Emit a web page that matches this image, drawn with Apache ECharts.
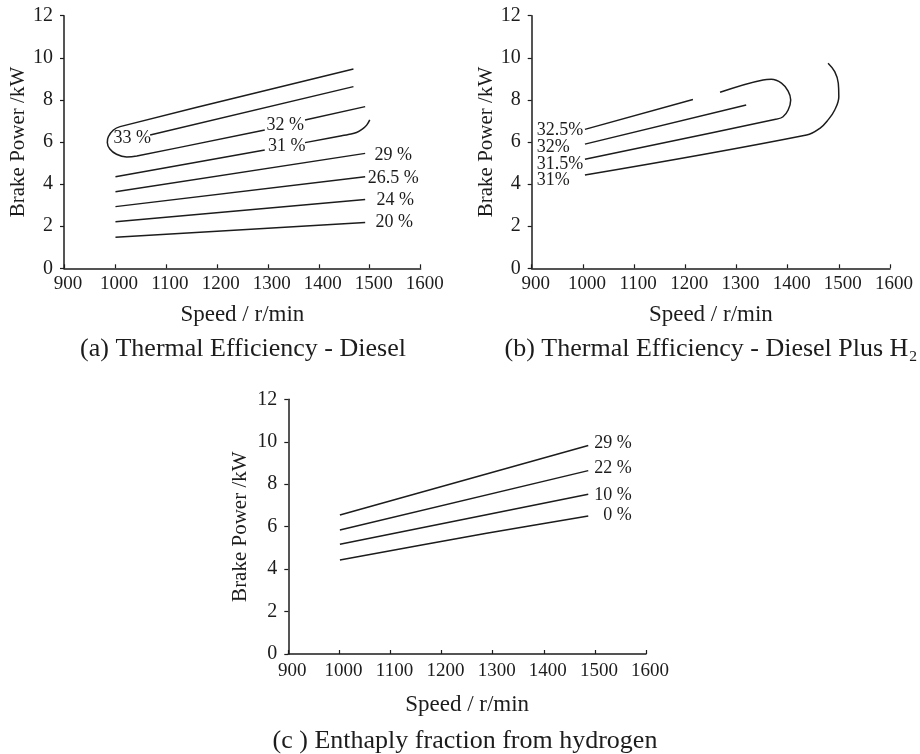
<!DOCTYPE html>
<html><head><meta charset="utf-8">
<script src="https://cdn.jsdelivr.net/npm/echarts@6/dist/echarts.min.js"></script>
<style>html,body{margin:0;padding:0;background:#fff}#c{width:920px;height:754px}</style>
</head><body><div id="c"></div>
<script>
// ---------- axes ----------
const speedMin = 900, speedMax = 1600, speedStep = 100;
const powerMin = 0, powerMax = 12, powerStep = 2;
const xTitle = 'Speed / r/min';
const yTitle = 'Brake Power /kW';
const captions = ['(a) Thermal Efficiency - Diesel', '(b) Thermal Efficiency - Diesel Plus H\u2082', '(c ) Enthaply fraction from hydrogen'];

// ---------- panel (a) Thermal Efficiency - Diesel ----------
const a20Speed = [1001, 1491];            const a20Power = [1.47, 2.17];
const a24Speed = [1001, 1491];            const a24Power = [2.21, 3.27];
const a265Speed = [1001, 1491];           const a265Power = [2.93, 4.35];
const a29Speed = [1001, 1491];            const a29Power = [3.64, 5.46];
const a31SpeedL = [1001, 1294];           const a31PowerL = [4.35, 5.62];
const a31SpeedR = [1373, 1445, 1458, 1474, 1486, 1494, 1500];
const a31PowerR = [5.97, 6.30, 6.36, 6.45, 6.62, 6.80, 7.05];
const a32SpeedL = [1468, 1010, 997, 987, 985, 990, 1003, 1023, 1043, 1294];
const a32PowerL = [9.47, 6.73, 6.57, 6.25, 5.98, 5.67, 5.42, 5.29, 5.34, 6.57];
const a32SpeedR = [1373, 1491];           const a32PowerR = [7.05, 7.68];
const a33Speed = [1069, 1468];            const a33Power = [6.33, 8.63];
const aLabelText  = ['33 %', '32 %', '31 %', '29 %', '26.5 %', '24 %', '20 %'];
const aLabelSpeed = [1034, 1334, 1337, 1546, 1546, 1550, 1548];
const aLabelPower = [6.18, 6.81, 5.82, 5.36, 4.27, 3.22, 2.21];

// ---------- panel (b) Thermal Efficiency - Diesel Plus H2 ----------
const b31Speed = [1004, 1437, 1463, 1479, 1492, 1500, 1499, 1492, 1479];
const b31Power = [4.43, 6.33, 6.65, 7.05, 7.52, 8.15, 8.79, 9.34, 9.74];
const b315Speed = [1004, 1379, 1391, 1401, 1406, 1401, 1388, 1368, 1352, 1268];
const b315Power = [5.18, 7.09, 7.20, 7.52, 8.00, 8.42, 8.80, 8.98, 8.95, 8.36];
const b32Speed = [1004, 1319];            const b32Power = [5.90, 7.76];
const b325Speed = [1004, 1215];           const b325Power = [6.60, 8.02];
const bLabelText  = ['32.5%', '32%', '31.5%', '31%'];
const bLabelSpeed = [910, 910, 910, 910];
const bLabelPower = [6.55, 5.74, 4.95, 4.16];

// ---------- panel (c) Enthalpy fraction from hydrogen ----------
const c0Speed = [1001, 1288, 1487];       const c0Power = [4.43, 5.69, 6.50];
const c10Speed = [1001, 1487];            const c10Power = [5.17, 7.53];
const c22Speed = [1001, 1487];            const c22Power = [5.84, 8.64];
const c29Speed = [1001, 1487];            const c29Power = [6.55, 9.82];
const cLabelText  = ['29 %', '22 %', '10 %', '0 %'];
const cLabelSpeed = [1572, 1572, 1572, 1572];
const cLabelPower = [9.93, 8.75, 7.49, 6.55];

// ---------- styling ----------
const FONT = "'Liberation Serif', 'Times New Roman', serif";
const INK = '#1c1c1c';

function pairs(xs, ys) { return xs.map((x, i) => [x, ys[i]]); }
function curve(p, xs, ys, smooth) {
  return { type: 'line', xAxisIndex: p, yAxisIndex: p, data: pairs(xs, ys),
    symbol: 'none', smooth: smooth || false, silent: true,
    lineStyle: { color: INK, width: 1.5 } };
}
function labels(p, texts, xs, ys, align) {
  return { type: 'scatter', xAxisIndex: p, yAxisIndex: p, symbol: 'circle', symbolSize: 1, silent: true,
    itemStyle: { color: 'rgba(255,255,255,0)' },
    data: xs.map((x, i) => ({ value: [x, ys[i]], name: texts[i] })),
    label: { show: true, position: 'inside', align: align, verticalAlign: 'middle',
      formatter: '{b}', fontFamily: FONT, fontSize: 18, color: INK,
      textBorderWidth: 0, opacity: 1 } };
}
function xAxis(p, gap, margin) {
  return { type: 'value', gridIndex: p, min: speedMin, max: speedMax, interval: speedStep,
    axisLine: { show: true, onZero: false, lineStyle: { color: INK, width: 1.5 } },
    axisTick: { show: true, inside: true, length: 4, lineStyle: { color: INK, width: 1.2 } },
    splitLine: { show: false },
    axisLabel: { fontFamily: FONT, fontSize: 19, color: INK, margin: margin, padding: [0, 0, 0, 8],
      formatter: v => String(v) },
    name: xTitle, nameLocation: 'middle', nameGap: gap,
    nameTextStyle: { fontFamily: FONT, fontSize: 23, color: INK } };
}
function yAxis(p, gap) {
  return { type: 'value', gridIndex: p, min: powerMin, max: powerMax, interval: powerStep,
    axisLine: { show: true, onZero: false, lineStyle: { color: INK, width: 1.5 } },
    axisTick: { show: true, inside: false, length: 4, lineStyle: { color: INK, width: 1.2 } },
    splitLine: { show: false },
    axisLabel: { fontFamily: FONT, fontSize: 20, color: INK, margin: 11, formatter: v => String(v) },
    name: yTitle, nameLocation: 'middle', nameRotate: 90, nameGap: gap,
    nameTextStyle: { fontFamily: FONT, fontSize: 21, color: INK } };
}

const chart = echarts.init(document.getElementById('c'), null, { renderer: 'canvas' });
chart.setOption({
  animation: false,
  backgroundColor: '#ffffff',
  title: [
    { text: captions[0], left: 238, top: 331, textAlign: 'center',
      textStyle: { fontFamily: FONT, fontSize: 26, fontWeight: 'normal', color: INK } },
    { text: captions[1], left: 706, top: 331, textAlign: 'center',
      textStyle: { fontFamily: FONT, fontSize: 26, fontWeight: 'normal', color: INK } },
    { text: captions[2], left: 460, top: 723, textAlign: 'center',
      textStyle: { fontFamily: FONT, fontSize: 26, fontWeight: 'normal', color: INK } }
  ],
  grid: [
    { left: 64, top: 15.7, width: 356.7, height: 252.6 },
    { left: 531.7, top: 15.7, width: 358.3, height: 252.6 },
    { left: 288.3, top: 399.3, width: 357.7, height: 254.7 }
  ],
  xAxis: [xAxis(0, 35, 6), xAxis(1, 35, 6), xAxis(2, 39, 8)],
  yAxis: [yAxis(0, 34), yAxis(1, 34), yAxis(2, 37)],
  series: [
    curve(0, a20Speed, a20Power),
    curve(0, a24Speed, a24Power),
    curve(0, a265Speed, a265Power),
    curve(0, a29Speed, a29Power),
    curve(0, a31SpeedL, a31PowerL),
    curve(0, a31SpeedR, a31PowerR, 0.4),
    curve(0, a32SpeedL, a32PowerL, 0.4),
    curve(0, a32SpeedR, a32PowerR),
    curve(0, a33Speed, a33Power),
    labels(0, aLabelText, aLabelSpeed, aLabelPower, 'center'),
    curve(1, b31Speed, b31Power, 0.4),
    curve(1, b315Speed, b315Power, 0.4),
    curve(1, b32Speed, b32Power),
    curve(1, b325Speed, b325Power),
    labels(1, bLabelText, bLabelSpeed, bLabelPower, 'left'),
    curve(2, c0Speed, c0Power, 0.3),
    curve(2, c10Speed, c10Power),
    curve(2, c22Speed, c22Power),
    curve(2, c29Speed, c29Power),
    labels(2, cLabelText, cLabelSpeed, cLabelPower, 'right')
  ]
});
</script></body></html>
